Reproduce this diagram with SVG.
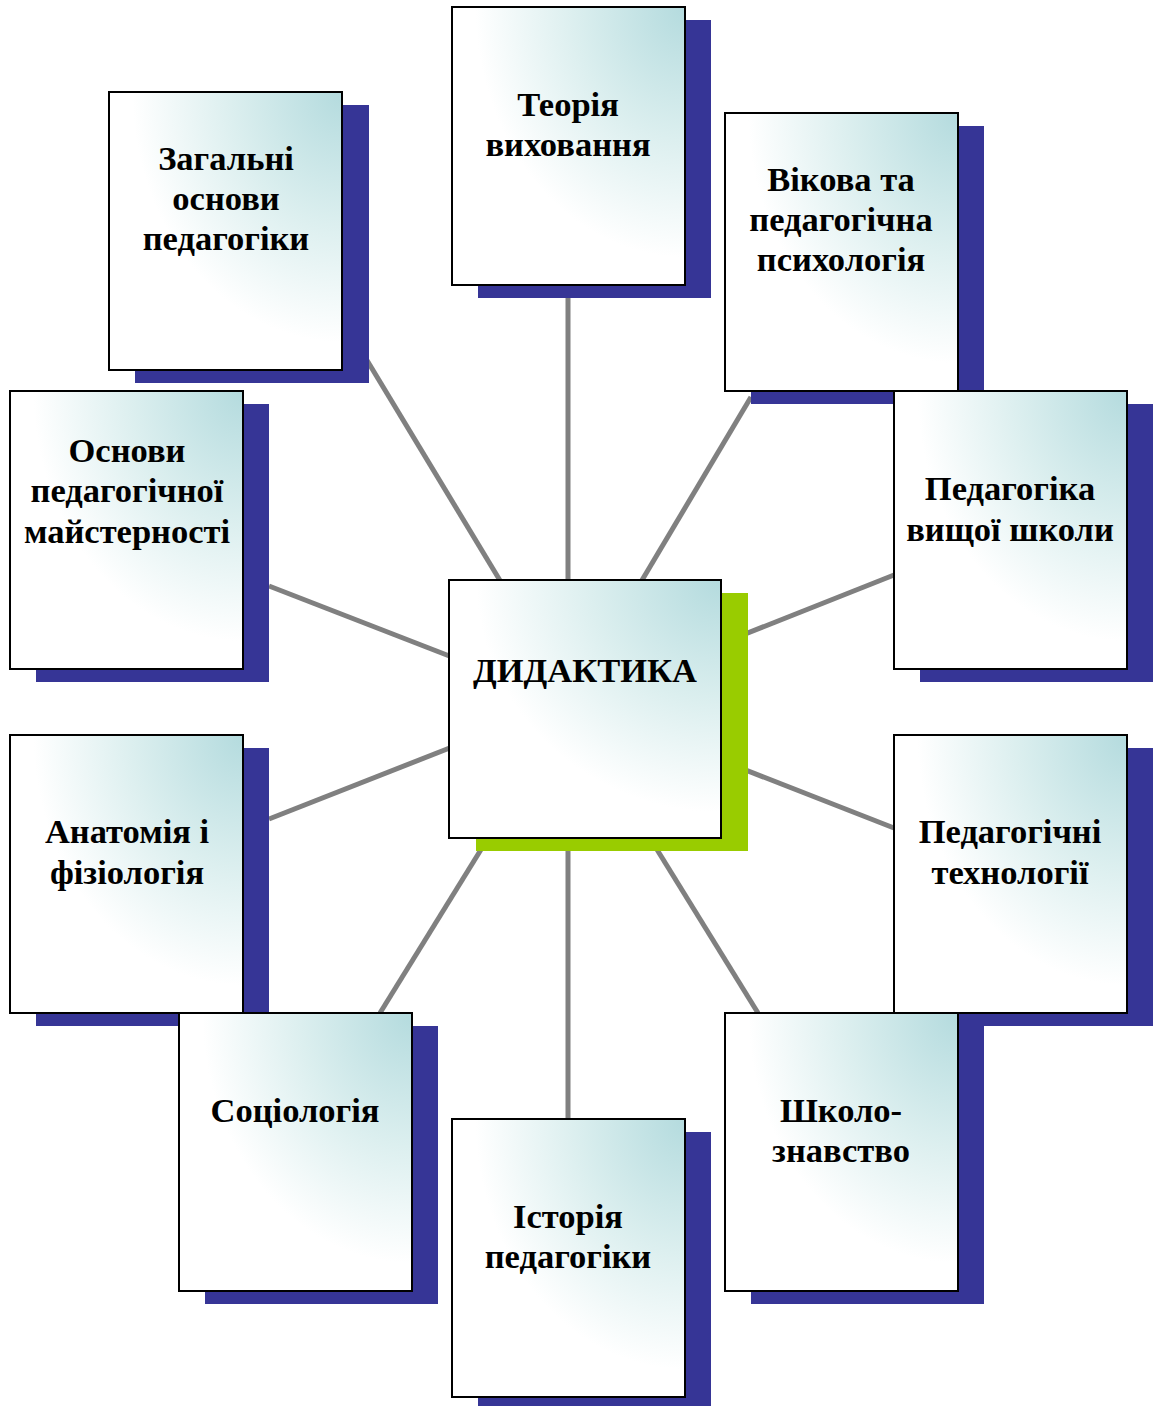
<svg xmlns="http://www.w3.org/2000/svg" width="1156" height="1406" viewBox="0 0 1156 1406">
<defs>
<radialGradient id="g" cx="1" cy="0" r="1.2" fx="1" fy="0">
<stop offset="0" stop-color="#b4dbde"/>
<stop offset="0.4" stop-color="#dcefef"/>
<stop offset="0.75" stop-color="#ffffff"/>
<stop offset="1" stop-color="#ffffff"/>
</radialGradient>
</defs>
<style>
.sh{fill:#363596}
.shc{fill:#99cc00}
.bx{fill:url(#g);stroke:#000;stroke-width:2}
.t{font-family:"Liberation Serif","Times New Roman",serif;font-weight:bold;font-size:34.5px;text-anchor:middle;fill:#000}
.c line{stroke:#808080;stroke-width:5}
</style>
<rect width="1156" height="1406" fill="#fff"/>
<g class="c" id="connectors">
<line x1="568" y1="600" x2="568" y2="298"/>
<line x1="510" y1="597" x2="365" y2="357"/>
<line x1="632" y1="597" x2="751" y2="397"/>
<line x1="720" y1="644" x2="894" y2="575"/>
<line x1="720" y1="760" x2="894" y2="828"/>
<line x1="470" y1="664" x2="269" y2="586"/>
<line x1="470" y1="740" x2="269" y2="819"/>
<line x1="490" y1="835" x2="380" y2="1013"/>
<line x1="568" y1="835" x2="568" y2="1119"/>
<line x1="648" y1="835" x2="758" y2="1013"/>
</g>
<g id="n-center">
<rect class="shc" x="476" y="593" width="272" height="258"/>
<rect class="bx" x="449" y="580" width="272" height="258"/>
<text class="t" x="585" y="682">ДИДАКТИКА</text>
</g>
<g id="n-zahalni">
<rect class="sh" x="135" y="105" width="234" height="278"/>
<rect class="bx" x="109" y="92" width="233" height="278"/>
<text class="t" x="226" y="170">Загальні</text>
<text class="t" x="226" y="210">основи</text>
<text class="t" x="226" y="250">педагогіки</text>
</g>
<g id="n-teoriia">
<rect class="sh" x="478" y="20" width="233" height="278"/>
<rect class="bx" x="452" y="7" width="233" height="278"/>
<text class="t" x="568" y="116">Теорія</text>
<text class="t" x="568" y="156">виховання</text>
</g>
<g id="n-vikova">
<rect class="sh" x="751" y="126" width="233" height="278"/>
<rect class="bx" x="725" y="113" width="233" height="278"/>
<text class="t" x="841" y="191">Вікова та</text>
<text class="t" x="841" y="231">педагогічна</text>
<text class="t" x="841" y="271">психологія</text>
</g>
<g id="n-osnovy">
<rect class="sh" x="36" y="404" width="233" height="278"/>
<rect class="bx" x="10" y="391" width="233" height="278"/>
<text class="t" x="127" y="462">Основи</text>
<text class="t" x="127" y="502">педагогічної</text>
<text class="t" x="127" y="543">майстерності</text>
</g>
<g id="n-vyshcha">
<rect class="sh" x="920" y="404" width="233" height="278"/>
<rect class="bx" x="894" y="391" width="233" height="278"/>
<text class="t" x="1010" y="500">Педагогіка</text>
<text class="t" x="1010" y="541">вищої школи</text>
</g>
<g id="n-anatomiia">
<rect class="sh" x="36" y="748" width="233" height="278"/>
<rect class="bx" x="10" y="735" width="233" height="278"/>
<text class="t" x="127" y="843">Анатомія і</text>
<text class="t" x="127" y="884">фізіологія</text>
</g>
<g id="n-tekhnolohii">
<rect class="sh" x="920" y="748" width="233" height="278"/>
<rect class="bx" x="894" y="735" width="233" height="278"/>
<text class="t" x="1010" y="843">Педагогічні</text>
<text class="t" x="1010" y="884">технології</text>
</g>
<g id="n-sotsiolohiia">
<rect class="sh" x="205" y="1026" width="233" height="278"/>
<rect class="bx" x="179" y="1013" width="233" height="278"/>
<text class="t" x="295" y="1122">Соціологія</text>
</g>
<g id="n-shkolo">
<rect class="sh" x="751" y="1026" width="233" height="278"/>
<rect class="bx" x="725" y="1013" width="233" height="278"/>
<text class="t" x="841" y="1122">Школо-</text>
<text class="t" x="841" y="1162">знавство</text>
</g>
<g id="n-istoriia">
<rect class="sh" x="478" y="1132" width="233" height="274"/>
<rect class="bx" x="452" y="1119" width="233" height="278"/>
<text class="t" x="568" y="1228">Історія</text>
<text class="t" x="568" y="1268">педагогіки</text>
</g>
</svg>
